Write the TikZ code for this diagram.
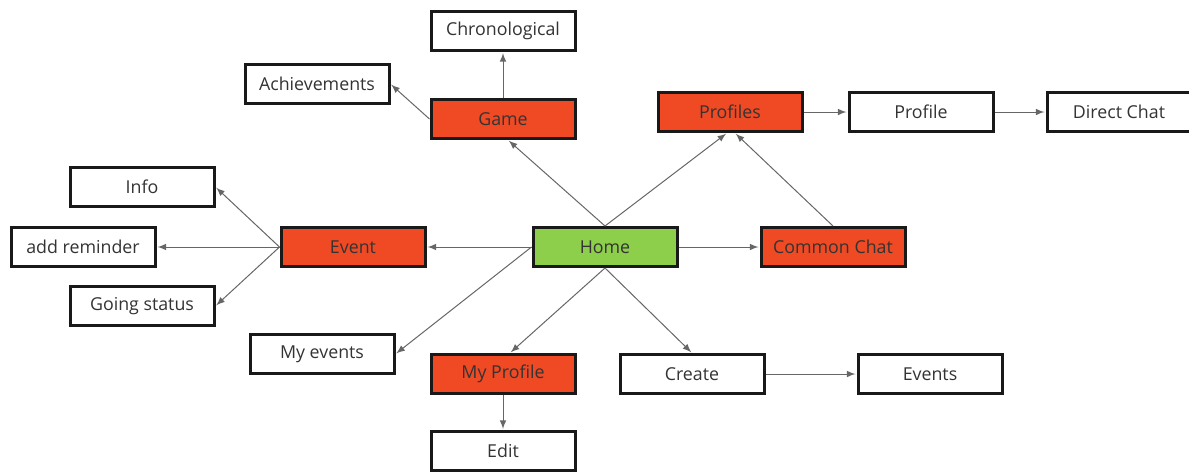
\documentclass[tikz,border=0pt]{standalone}
\usepackage{tikz}
\usetikzlibrary{arrows}
\usepackage{xcolor}
\usepackage{fontspec}
\setmainfont{Open Sans}

\definecolor{pagered}{HTML}{EF4A24}
\definecolor{homegreen}{HTML}{8DCE4B}

\begin{document}
\begin{tikzpicture}[x=0.5pt,y=-0.5pt,
  box/.style={rectangle,draw=black!90,line width=1.5pt,fill=white,minimum width=72pt,minimum height=19.5pt,inner sep=0pt,text=black!80,font=\fontsize{8.9}{10}\selectfont},
  page/.style={box,fill=pagered},
  link/.style={-latex,draw=black!60,line width=0.5pt,shorten >=0.5pt}]
\useasboundingbox (0,0) rectangle (1189,472);

\node [box] (chrono) at (503,31) {Chronological};
\node [box] (achieve) at (317,84) {Achievements};
\node [page] (game) at (503,119) {Game};
\node [page] (profiles) at (730,112) {Profiles};
\node [box] (profile) at (921,112) {Profile};
\node [box] (direct) at (1119,112) {Direct Chat};
\node [box] (info) at (142,187) {Info};
\node [box] (remind) at (83,247) {add reminder};
\node [page] (event) at (353,247) {Event};
\node [box,fill=homegreen] (home) at (605,247) {Home};
\node [page] (common) at (833,247) {Common Chat};
\node [box] (going) at (142,306) {Going status};
\node [box] (myevents) at (322,354) {My events};
\node [page] (myprofile) at (503,374) {My Profile};
\node [box] (create) at (692,374) {Create};
\node [box] (events) at (930,374) {Events};
\node [box] (edit) at (503,451) {Edit};

\draw [link] (home.north) -- ([xshift=2.5pt]game.south);
\draw [link] (home.north) -- ([xshift=-1.5pt]profiles.south);
\draw [link] (common.north) -- ([xshift=2.5pt]profiles.south);
\draw [link] (home) -- (event);
\draw [link] (home) -- (common);
\draw [link] (home.west) -- (myevents.east);
\draw [link] (home.south) -- ([xshift=3.5pt]myprofile.north);
\draw [link] (home.south) -- (create.north);
\draw [link] (create) -- (events);
\draw [link] (myprofile) -- (edit);
\draw [link] (game) -- (chrono);
\draw [link] (game.west) -- (achieve.east);
\draw [link] (event.west) -- (info.east);
\draw [link] (event.west) -- (remind.east);
\draw [link] (event.west) -- (going.east);
\draw [link] (profiles) -- (profile);
\draw [link] (profile) -- (direct);
\end{tikzpicture}
\end{document}
